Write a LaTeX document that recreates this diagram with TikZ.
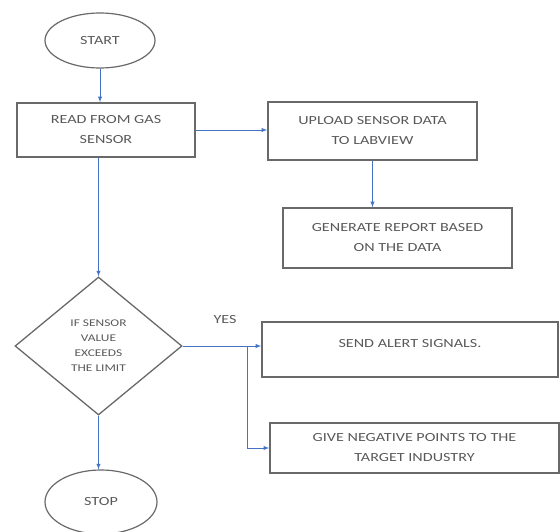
\documentclass[tikz,border=0pt]{standalone}
\usepackage{fontspec}
\setmainfont{Carlito}[FakeStretch=1.3]
\usetikzlibrary{arrows,shapes,calc,positioning}
\definecolor{flowblue}{RGB}{68,114,196}
\definecolor{txtgray}{RGB}{89,89,89}
\definecolor{linegray}{RGB}{105,105,105}
\tikzset{term/.style={
            draw=linegray,
            ellipse,
            line width=1.2pt,
            text=txtgray,
            inner sep=0pt,
            font=\fontsize{12.4}{20}\selectfont
        },
        procbox/.style={
            draw=linegray,
            rectangle,
            line width=1.6pt,
            text=txtgray,
            align=center,
            inner sep=0pt,
            font=\fontsize{12.4}{20}\selectfont
        },
        decision/.style={
            draw=linegray,
            diamond,
            aspect=1.2,
            line width=1.3pt,
            text=txtgray,
            align=center,
            inner sep=0pt,
            font=\fontsize{10.3}{15}\selectfont
        },
        flow/.style={
            ->,
            >=latex,
            draw=flowblue,
            line width=0.9pt
        }
    }
\begin{document}
\begin{tikzpicture}[x=1pt,y=-1pt]
        \useasboundingbox (0,0) rectangle (560,532);
        \node[term, minimum width=110pt, minimum height=55pt] at (100,40.5) (start) {START};
        \node[procbox, minimum width=178pt, minimum height=54pt] at (106,130) (read) {READ FROM GAS\\SENSOR};
        \node[procbox, minimum width=209pt, minimum height=58pt] at (372.5,131) (upload) {UPLOAD SENSOR DATA\\TO LABVIEW};
        \node[procbox, minimum width=229pt, minimum height=60pt] at (397.5,238) (report) {GENERATE REPORT BASED\\ON THE DATA};
        \node[decision, minimum width=167pt, minimum height=138pt] at (98.5,346) (check) {IF SENSOR\\VALUE\\EXCEEDS\\THE LIMIT};
        \node[procbox, minimum width=296pt, minimum height=55pt, text depth=13pt] at (410,349.5) (alert) {SEND ALERT SIGNALS.};
        \node[procbox, minimum width=289pt, minimum height=50pt] at (414.5,448) (penalty) {GIVE NEGATIVE POINTS TO THE\\TARGET INDUSTRY};
        \node[term, minimum width=112pt, minimum height=64pt] at (101,502) (stop) {STOP};
        \node[text=txtgray, font=\fontsize{12.4}{20}\selectfont] at (225,320) (yes) {YES};
        \coordinate (split) at (247,347);
        % connectors
        \draw[flow] (start.south) -- (start.south |- read.north);
        \draw[flow] (read.east) -- (read.east -| upload.west);
        \draw[flow] (upload.south) -- (upload.south |- report.north);
        \draw[flow] (check.north |- read.south) -- (check.north);
        \draw[flow] (check.south) -- (check.south |- stop.north);
        \draw[flow] (check.east) -- (check.east -| alert.west);
        \draw[flow] (split) |- (penalty.west);
    \end{tikzpicture}
\end{document}
